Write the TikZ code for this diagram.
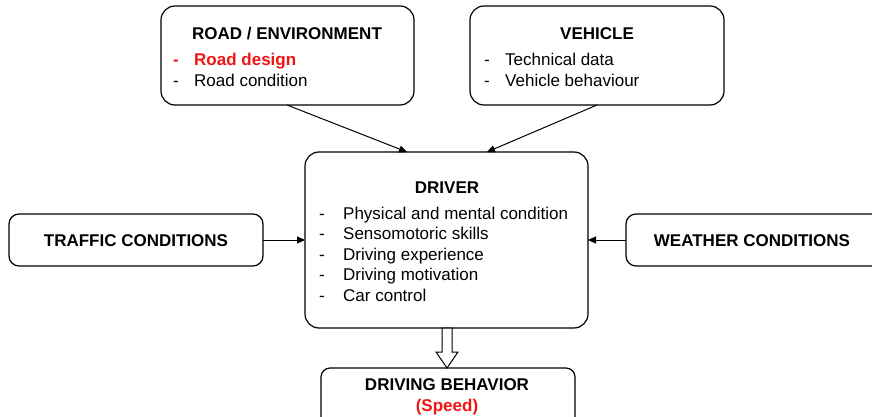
\documentclass[tikz,border=0pt]{standalone}
\usepackage{fontspec}
\setmainfont{Liberation Sans}
\usetikzlibrary{arrows.meta,calc}
\definecolor{myred}{RGB}{240,20,20}
\begin{document}
\begin{tikzpicture}[x=1pt,y=-1pt,
  box/.style={draw,line width=1.2pt,rounded corners=#1},
  box/.default=14pt,
  ttl/.style={font=\fontsize{17}{20}\selectfont\bfseries,anchor=base},
  itm/.style={font=\fontsize{17}{20}\selectfont,anchor=base west,inner sep=0pt},
  con/.style={line width=1pt,-{Triangle[length=8pt,width=7pt]}}]
\useasboundingbox (0,0) rectangle (872,417);
% boxes
\draw[box] (161,6) rectangle (414,105);
\draw[box] (470,6) rectangle (724,105);
\draw[box] (305,152) rectangle (588,328);
\draw[box=10pt] (9,214) rectangle (263,266);
\draw[box=10pt] (626,214) rectangle (882,266);
\draw[box=9pt] (321,368) rectangle (575,430);
% anchor coordinates
\coordinate (roadS) at (287,105);
\coordinate (vehS) at (597,105);
\coordinate (drvTL) at (407,152);
\coordinate (drvTR) at (487,152);
\coordinate (trafE) at (263,240);
\coordinate (drvW) at (305,240);
\coordinate (weaW) at (626,240);
\coordinate (drvE) at (588,240);
\coordinate (drvS) at (447,328);
\coordinate (behN) at (447,368);
% texts
\node[ttl] (t1) at (287,39.1) {ROAD / ENVIRONMENT};
\node[itm,text=myred] (r1d) at (173,65.1) {\bfseries -};
\node[itm,text=myred] (r1) at (194,65.1) {\bfseries Road design};
\node[itm] (r2d) at (173,86.1) {-};
\node[itm] (r2) at (194,86.1) {Road condition};
\node[ttl] (t2) at (597,39.1) {VEHICLE};
\node[itm] (v1d) at (484,65.1) {-};
\node[itm] (v1) at (505,65.1) {Technical data};
\node[itm] (v2d) at (484,86.1) {-};
\node[itm] (v2) at (505,86.1) {Vehicle behaviour};
\node[ttl] (t3) at (447,193.1) {DRIVER};
\foreach \t [count=\i] in {Physical and mental condition,Sensomotoric skills,Driving experience,Driving motivation,Car control}{
  \node[itm] (dd\i) at (319,{213+20.5*(\i-1)+6.1}) {-};
  \node[itm] (d\i) at (343,{213+20.5*(\i-1)+6.1}) {\t};
}
\node[ttl] (t4) at (136,246.1) {TRAFFIC CONDITIONS};
\node[ttl] (t5) at (752,246.1) {WEATHER CONDITIONS};
\node[ttl] (t6) at (447,390.1) {DRIVING BEHAVIOR};
\node[ttl,text=myred] (t7) at (447,411.1) {(Speed)};
% connectors
\draw[con] (roadS) -- (drvTL);
\draw[con] (vehS) -- (drvTR);
\draw[con] (trafE) -- (drvW);
\draw[con] (weaW) -- (drvE);
\draw[line width=1pt,fill=white,line join=miter]
  ($(drvS)+(-5,0)$) -- ($(drvS)+(5,0)$) -- ($(behN)+(5,-16)$) -- ($(behN)+(11,-16)$)
  -- (behN) -- ($(behN)+(-11,-16)$) -- ($(behN)+(-5,-16)$) -- cycle;
\end{tikzpicture}
\end{document}
